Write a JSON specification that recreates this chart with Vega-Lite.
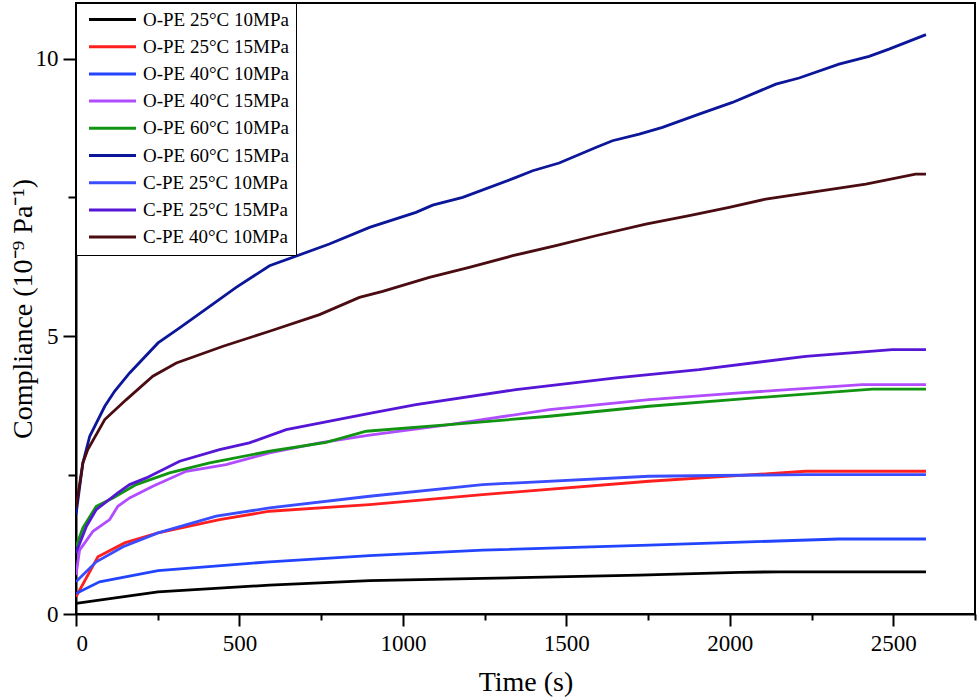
{
  "$schema": "https://vega.github.io/schema/vega-lite/v6.json",
  "description": "Creep compliance of O-PE and C-PE over time.",
  "width": 899,
  "height": 611,
  "autosize": {"type": "none"},
  "padding": {"left": 76, "top": 3, "right": 5, "bottom": 85},
  "config": {
    "font": "Liberation Serif",
    "view": {"stroke": "black", "strokeWidth": 2},
    "axis": {
      "domainColor": "black", "domainWidth": 2,
      "tickColor": "black", "tickWidth": 2,
      "grid": false,
      "labelFont": "Liberation Serif", "labelFontSize": 23, "labelColor": "black",
      "titleFont": "Liberation Serif", "titleFontSize": 28, "titleFontWeight": "normal", "titleColor": "black"
    },
    "legend": {
      "labelFont": "Liberation Serif", "labelFontSize": 19, "labelColor": "black"
    }
  },
  "data": {
    "values": [
      {"s": "O-PE 25°C 10MPa", "t": 0, "c": 0.19},
      {"s": "O-PE 25°C 10MPa", "t": 251, "c": 0.40},
      {"s": "O-PE 25°C 10MPa", "t": 592, "c": 0.52},
      {"s": "O-PE 25°C 10MPa", "t": 898, "c": 0.60},
      {"s": "O-PE 25°C 10MPa", "t": 1244, "c": 0.64},
      {"s": "O-PE 25°C 10MPa", "t": 1723, "c": 0.70},
      {"s": "O-PE 25°C 10MPa", "t": 2029, "c": 0.75},
      {"s": "O-PE 25°C 10MPa", "t": 2150, "c": 0.76},
      {"s": "O-PE 25°C 10MPa", "t": 2600, "c": 0.76},

      {"s": "O-PE 25°C 15MPa", "t": 0, "c": 0.31},
      {"s": "O-PE 25°C 15MPa", "t": 67, "c": 1.03},
      {"s": "O-PE 25°C 15MPa", "t": 149, "c": 1.28},
      {"s": "O-PE 25°C 15MPa", "t": 251, "c": 1.46},
      {"s": "O-PE 25°C 15MPa", "t": 439, "c": 1.70},
      {"s": "O-PE 25°C 15MPa", "t": 592, "c": 1.85},
      {"s": "O-PE 25°C 15MPa", "t": 898, "c": 1.97},
      {"s": "O-PE 25°C 15MPa", "t": 1244, "c": 2.15},
      {"s": "O-PE 25°C 15MPa", "t": 1753, "c": 2.39},
      {"s": "O-PE 25°C 15MPa", "t": 2232, "c": 2.57},
      {"s": "O-PE 25°C 15MPa", "t": 2600, "c": 2.57},

      {"s": "O-PE 40°C 10MPa", "t": 0, "c": 0.37},
      {"s": "O-PE 40°C 10MPa", "t": 72, "c": 0.58},
      {"s": "O-PE 40°C 10MPa", "t": 251, "c": 0.78},
      {"s": "O-PE 40°C 10MPa", "t": 592, "c": 0.94},
      {"s": "O-PE 40°C 10MPa", "t": 898, "c": 1.05},
      {"s": "O-PE 40°C 10MPa", "t": 1244, "c": 1.15},
      {"s": "O-PE 40°C 10MPa", "t": 1753, "c": 1.24},
      {"s": "O-PE 40°C 10MPa", "t": 2334, "c": 1.35},
      {"s": "O-PE 40°C 10MPa", "t": 2600, "c": 1.35},

      {"s": "O-PE 40°C 15MPa", "t": 0, "c": 0.70},
      {"s": "O-PE 40°C 15MPa", "t": 11, "c": 1.15},
      {"s": "O-PE 40°C 15MPa", "t": 52, "c": 1.49},
      {"s": "O-PE 40°C 15MPa", "t": 103, "c": 1.70},
      {"s": "O-PE 40°C 15MPa", "t": 128, "c": 1.94},
      {"s": "O-PE 40°C 15MPa", "t": 164, "c": 2.09},
      {"s": "O-PE 40°C 15MPa", "t": 235, "c": 2.30},
      {"s": "O-PE 40°C 15MPa", "t": 337, "c": 2.57},
      {"s": "O-PE 40°C 15MPa", "t": 459, "c": 2.69},
      {"s": "O-PE 40°C 15MPa", "t": 592, "c": 2.90},
      {"s": "O-PE 40°C 15MPa", "t": 745, "c": 3.08},
      {"s": "O-PE 40°C 15MPa", "t": 898, "c": 3.22},
      {"s": "O-PE 40°C 15MPa", "t": 1142, "c": 3.41},
      {"s": "O-PE 40°C 15MPa", "t": 1448, "c": 3.68},
      {"s": "O-PE 40°C 15MPa", "t": 1753, "c": 3.86},
      {"s": "O-PE 40°C 15MPa", "t": 2029, "c": 3.98},
      {"s": "O-PE 40°C 15MPa", "t": 2405, "c": 4.13},
      {"s": "O-PE 40°C 15MPa", "t": 2600, "c": 4.13},

      {"s": "O-PE 60°C 10MPa", "t": 0, "c": 1.21},
      {"s": "O-PE 60°C 10MPa", "t": 21, "c": 1.55},
      {"s": "O-PE 60°C 10MPa", "t": 62, "c": 1.94},
      {"s": "O-PE 60°C 10MPa", "t": 113, "c": 2.09},
      {"s": "O-PE 60°C 10MPa", "t": 184, "c": 2.33},
      {"s": "O-PE 60°C 10MPa", "t": 286, "c": 2.54},
      {"s": "O-PE 60°C 10MPa", "t": 409, "c": 2.72},
      {"s": "O-PE 60°C 10MPa", "t": 592, "c": 2.93},
      {"s": "O-PE 60°C 10MPa", "t": 765, "c": 3.09},
      {"s": "O-PE 60°C 10MPa", "t": 888, "c": 3.29},
      {"s": "O-PE 60°C 10MPa", "t": 1142, "c": 3.41},
      {"s": "O-PE 60°C 10MPa", "t": 1448, "c": 3.56},
      {"s": "O-PE 60°C 10MPa", "t": 1753, "c": 3.74},
      {"s": "O-PE 60°C 10MPa", "t": 2029, "c": 3.87},
      {"s": "O-PE 60°C 10MPa", "t": 2436, "c": 4.05},
      {"s": "O-PE 60°C 10MPa", "t": 2600, "c": 4.05},

      {"s": "O-PE 60°C 15MPa", "t": 0, "c": 1.79},
      {"s": "O-PE 60°C 15MPa", "t": 21, "c": 2.72},
      {"s": "O-PE 60°C 15MPa", "t": 42, "c": 3.20},
      {"s": "O-PE 60°C 15MPa", "t": 88, "c": 3.74},
      {"s": "O-PE 60°C 15MPa", "t": 118, "c": 4.01},
      {"s": "O-PE 60°C 15MPa", "t": 164, "c": 4.34},
      {"s": "O-PE 60°C 15MPa", "t": 251, "c": 4.88},
      {"s": "O-PE 60°C 15MPa", "t": 317, "c": 5.15},
      {"s": "O-PE 60°C 15MPa", "t": 409, "c": 5.54},
      {"s": "O-PE 60°C 15MPa", "t": 490, "c": 5.88},
      {"s": "O-PE 60°C 15MPa", "t": 592, "c": 6.27},
      {"s": "O-PE 60°C 15MPa", "t": 775, "c": 6.66},
      {"s": "O-PE 60°C 15MPa", "t": 898, "c": 6.96},
      {"s": "O-PE 60°C 15MPa", "t": 1040, "c": 7.23},
      {"s": "O-PE 60°C 15MPa", "t": 1091, "c": 7.36},
      {"s": "O-PE 60°C 15MPa", "t": 1183, "c": 7.50},
      {"s": "O-PE 60°C 15MPa", "t": 1346, "c": 7.86},
      {"s": "O-PE 60°C 15MPa", "t": 1397, "c": 7.98},
      {"s": "O-PE 60°C 15MPa", "t": 1478, "c": 8.12},
      {"s": "O-PE 60°C 15MPa", "t": 1590, "c": 8.40},
      {"s": "O-PE 60°C 15MPa", "t": 1641, "c": 8.52},
      {"s": "O-PE 60°C 15MPa", "t": 1723, "c": 8.64},
      {"s": "O-PE 60°C 15MPa", "t": 1794, "c": 8.76},
      {"s": "O-PE 60°C 15MPa", "t": 1906, "c": 9.00},
      {"s": "O-PE 60°C 15MPa", "t": 2008, "c": 9.21},
      {"s": "O-PE 60°C 15MPa", "t": 2141, "c": 9.54},
      {"s": "O-PE 60°C 15MPa", "t": 2212, "c": 9.65},
      {"s": "O-PE 60°C 15MPa", "t": 2334, "c": 9.90},
      {"s": "O-PE 60°C 15MPa", "t": 2426, "c": 10.04},
      {"s": "O-PE 60°C 15MPa", "t": 2487, "c": 10.17},
      {"s": "O-PE 60°C 15MPa", "t": 2600, "c": 10.43},

      {"s": "C-PE 25°C 10MPa", "t": 0, "c": 0.58},
      {"s": "C-PE 25°C 10MPa", "t": 62, "c": 0.94},
      {"s": "C-PE 25°C 10MPa", "t": 144, "c": 1.21},
      {"s": "C-PE 25°C 10MPa", "t": 251, "c": 1.46},
      {"s": "C-PE 25°C 10MPa", "t": 429, "c": 1.76},
      {"s": "C-PE 25°C 10MPa", "t": 592, "c": 1.91},
      {"s": "C-PE 25°C 10MPa", "t": 898, "c": 2.12},
      {"s": "C-PE 25°C 10MPa", "t": 1244, "c": 2.33},
      {"s": "C-PE 25°C 10MPa", "t": 1753, "c": 2.48},
      {"s": "C-PE 25°C 10MPa", "t": 2232, "c": 2.51},
      {"s": "C-PE 25°C 10MPa", "t": 2600, "c": 2.51},

      {"s": "C-PE 25°C 15MPa", "t": 0, "c": 1.10},
      {"s": "C-PE 25°C 15MPa", "t": 32, "c": 1.58},
      {"s": "C-PE 25°C 15MPa", "t": 62, "c": 1.88},
      {"s": "C-PE 25°C 15MPa", "t": 128, "c": 2.18},
      {"s": "C-PE 25°C 15MPa", "t": 164, "c": 2.33},
      {"s": "C-PE 25°C 15MPa", "t": 215, "c": 2.45},
      {"s": "C-PE 25°C 15MPa", "t": 317, "c": 2.75},
      {"s": "C-PE 25°C 15MPa", "t": 439, "c": 2.96},
      {"s": "C-PE 25°C 15MPa", "t": 530, "c": 3.08},
      {"s": "C-PE 25°C 15MPa", "t": 643, "c": 3.32},
      {"s": "C-PE 25°C 15MPa", "t": 898, "c": 3.61},
      {"s": "C-PE 25°C 15MPa", "t": 1040, "c": 3.77},
      {"s": "C-PE 25°C 15MPa", "t": 1346, "c": 4.04},
      {"s": "C-PE 25°C 15MPa", "t": 1652, "c": 4.25},
      {"s": "C-PE 25°C 15MPa", "t": 1906, "c": 4.40},
      {"s": "C-PE 25°C 15MPa", "t": 2232, "c": 4.64},
      {"s": "C-PE 25°C 15MPa", "t": 2497, "c": 4.76},
      {"s": "C-PE 25°C 15MPa", "t": 2600, "c": 4.76},

      {"s": "C-PE 40°C 10MPa", "t": 0, "c": 1.91},
      {"s": "C-PE 40°C 10MPa", "t": 21, "c": 2.72},
      {"s": "C-PE 40°C 10MPa", "t": 36, "c": 2.96},
      {"s": "C-PE 40°C 10MPa", "t": 88, "c": 3.50},
      {"s": "C-PE 40°C 10MPa", "t": 154, "c": 3.86},
      {"s": "C-PE 40°C 10MPa", "t": 235, "c": 4.28},
      {"s": "C-PE 40°C 10MPa", "t": 307, "c": 4.52},
      {"s": "C-PE 40°C 10MPa", "t": 450, "c": 4.82},
      {"s": "C-PE 40°C 10MPa", "t": 592, "c": 5.09},
      {"s": "C-PE 40°C 10MPa", "t": 745, "c": 5.39},
      {"s": "C-PE 40°C 10MPa", "t": 867, "c": 5.70},
      {"s": "C-PE 40°C 10MPa", "t": 938, "c": 5.81},
      {"s": "C-PE 40°C 10MPa", "t": 1081, "c": 6.06},
      {"s": "C-PE 40°C 10MPa", "t": 1203, "c": 6.24},
      {"s": "C-PE 40°C 10MPa", "t": 1336, "c": 6.45},
      {"s": "C-PE 40°C 10MPa", "t": 1468, "c": 6.63},
      {"s": "C-PE 40°C 10MPa", "t": 1590, "c": 6.81},
      {"s": "C-PE 40°C 10MPa", "t": 1743, "c": 7.02},
      {"s": "C-PE 40°C 10MPa", "t": 1876, "c": 7.17},
      {"s": "C-PE 40°C 10MPa", "t": 1998, "c": 7.32},
      {"s": "C-PE 40°C 10MPa", "t": 2110, "c": 7.47},
      {"s": "C-PE 40°C 10MPa", "t": 2416, "c": 7.74},
      {"s": "C-PE 40°C 10MPa", "t": 2568, "c": 7.92},
      {"s": "C-PE 40°C 10MPa", "t": 2600, "c": 7.92}
    ]
  },
  "mark": {"type": "line", "strokeWidth": 2.8, "clip": true},
  "encoding": {
    "x": {
      "field": "t", "type": "quantitative",
      "scale": {"domain": [0, 2750], "nice": false},
      "axis": {
        "title": "Time (s)",
        "format": "d",
        "values": [0, 250, 500, 750, 1000, 1250, 1500, 1750, 2000, 2250, 2500, 2750],
        "labelExpr": "datum.value % 500 == 0 ? datum.label : ''",
        "tickSize": {"condition": {"test": "datum.value % 500 == 0", "value": 12}, "value": 6},
        "labelPadding": 6,
        "titlePadding": 13
      }
    },
    "y": {
      "field": "c", "type": "quantitative",
      "scale": {"domain": [0, 11], "nice": false},
      "axis": {
        "title": "Compliance (10⁻⁹ Pa⁻¹)",
        "values": [0, 2.5, 5, 7.5, 10],
        "labelExpr": "datum.value % 5 == 0 ? datum.label : ''",
        "tickSize": {"condition": {"test": "datum.value % 5 == 0", "value": 13}, "value": 8},
        "labelPadding": 5,
        "titlePadding": -2
      }
    },
    "color": {
      "field": "s", "type": "nominal",
      "scale": {
        "domain": ["O-PE 25°C 10MPa", "O-PE 25°C 15MPa", "O-PE 40°C 10MPa", "O-PE 40°C 15MPa", "O-PE 60°C 10MPa", "O-PE 60°C 15MPa", "C-PE 25°C 10MPa", "C-PE 25°C 15MPa", "C-PE 40°C 10MPa"],
        "range": ["#000000", "#ff1f1f", "#2244ff", "#b24cff", "#119411", "#0c1699", "#3a4cff", "#5516d6", "#4a0c10"]
      },
      "legend": {
        "title": null,
        "orient": "top-left",
        "offset": 0,
        "padding": 7,
        "strokeColor": "black",
        "fillColor": "white",
        "symbolType": "M-4,0H4",
        "symbolSize": 138,
        "symbolStrokeWidth": 3,
        "symbolOffset": 20,
        "labelOffset": 21,
        "rowPadding": 7.2
      }
    }
  }
}
